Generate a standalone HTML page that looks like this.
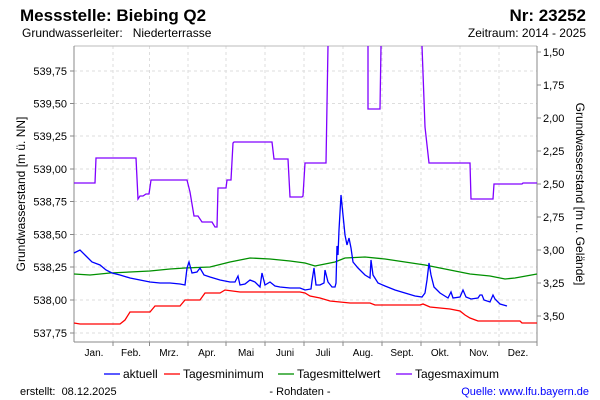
<!DOCTYPE html>
<html><head><meta charset="utf-8"><style>
body{margin:0;background:#fff;}
svg{display:block;font-family:"Liberation Sans",sans-serif;}
</style></head><body>
<svg width="600" height="400" viewBox="0 0 600 400" xmlns="http://www.w3.org/2000/svg">
<rect width="600" height="400" fill="#fff"/>
<text x="20" y="21" font-size="17" font-weight="bold">Messstelle: Biebing Q2</text>
<text x="586" y="21" font-size="17" font-weight="bold" text-anchor="end">Nr: 23252</text>
<text x="22" y="37" font-size="12">Grundwasserleiter:&#160;&#160;&#160;Niederterrasse</text>
<text x="586" y="37" font-size="12" text-anchor="end">Zeitraum: 2014 - 2025</text>
<g stroke="#ddd" stroke-dasharray="3,3" stroke-width="1">
<line x1="74" x2="537" y1="71" y2="71"/><line x1="74" x2="537" y1="103.5" y2="103.5"/><line x1="74" x2="537" y1="136" y2="136"/><line x1="74" x2="537" y1="169" y2="169"/><line x1="74" x2="537" y1="201.5" y2="201.5"/><line x1="74" x2="537" y1="234.5" y2="234.5"/><line x1="74" x2="537" y1="267" y2="267"/><line x1="74" x2="537" y1="300" y2="300"/><line x1="74" x2="537" y1="333" y2="333"/>
<line y1="46" y2="342" x1="113" x2="113"/><line y1="46" y2="342" x1="149.5" x2="149.5"/><line y1="46" y2="342" x1="188" x2="188"/><line y1="46" y2="342" x1="226" x2="226"/><line y1="46" y2="342" x1="265" x2="265"/><line y1="46" y2="342" x1="304" x2="304"/><line y1="46" y2="342" x1="343" x2="343"/><line y1="46" y2="342" x1="382" x2="382"/><line y1="46" y2="342" x1="421" x2="421"/><line y1="46" y2="342" x1="460" x2="460"/><line y1="46" y2="342" x1="499" x2="499"/>
</g>
<line x1="74" x2="537" y1="46" y2="46" stroke="#bbb"/>
<line x1="74" x2="74" y1="46" y2="342" stroke="#888"/>
<line x1="537" x2="537" y1="46" y2="342" stroke="#888"/>
<line x1="74" x2="537" y1="342" y2="342" stroke="#888"/>
<g stroke="#888">
<line x1="70" x2="74" y1="71" y2="71"/><line x1="70" x2="74" y1="103.5" y2="103.5"/><line x1="70" x2="74" y1="136" y2="136"/><line x1="70" x2="74" y1="169" y2="169"/><line x1="70" x2="74" y1="201.5" y2="201.5"/><line x1="70" x2="74" y1="234.5" y2="234.5"/><line x1="70" x2="74" y1="267" y2="267"/><line x1="70" x2="74" y1="300" y2="300"/><line x1="70" x2="74" y1="333" y2="333"/>
<line x1="537" x2="541" y1="52" y2="52"/><line x1="537" x2="541" y1="85" y2="85"/><line x1="537" x2="541" y1="118" y2="118"/><line x1="537" x2="541" y1="151" y2="151"/><line x1="537" x2="541" y1="184" y2="184"/><line x1="537" x2="541" y1="217" y2="217"/><line x1="537" x2="541" y1="250" y2="250"/><line x1="537" x2="541" y1="283" y2="283"/><line x1="537" x2="541" y1="316" y2="316"/>
<line y1="342" y2="346" x1="113" x2="113"/><line y1="342" y2="346" x1="149.5" x2="149.5"/><line y1="342" y2="346" x1="188" x2="188"/><line y1="342" y2="346" x1="226" x2="226"/><line y1="342" y2="346" x1="265" x2="265"/><line y1="342" y2="346" x1="304" x2="304"/><line y1="342" y2="346" x1="343" x2="343"/><line y1="342" y2="346" x1="382" x2="382"/><line y1="342" y2="346" x1="421" x2="421"/><line y1="342" y2="346" x1="460" x2="460"/><line y1="342" y2="346" x1="499" x2="499"/><line y1="342" y2="346" x1="537" x2="537"/>
</g>
<g font-size="11" text-anchor="end">
<text x="67" y="75">539,75</text><text x="67" y="107.5">539,50</text><text x="67" y="140">539,25</text><text x="67" y="173">539,00</text><text x="67" y="205.5">538,75</text><text x="67" y="238.5">538,50</text><text x="67" y="271">538,25</text><text x="67" y="304">538,00</text><text x="67" y="337">537,75</text>
</g>
<g font-size="11">
<text x="543" y="56">1,50</text><text x="543" y="89">1,75</text><text x="543" y="122">2,00</text><text x="543" y="155">2,25</text><text x="543" y="188">2,50</text><text x="543" y="221">2,75</text><text x="543" y="254">3,00</text><text x="543" y="287">3,25</text><text x="543" y="320">3,50</text>
</g>
<g font-size="10" text-anchor="middle">
<text x="94" y="356">Jan.</text><text x="131" y="356">Feb.</text><text x="169" y="356">Mrz.</text><text x="207" y="356">Apr.</text><text x="246" y="356">Mai</text><text x="285" y="356">Juni</text><text x="323" y="356">Juli</text><text x="363" y="356">Aug.</text><text x="402" y="356">Sept.</text><text x="440" y="356">Okt.</text><text x="479" y="356">Nov.</text><text x="518" y="356">Dez.</text>
</g>
<text transform="translate(25,194) rotate(-90)" font-size="12" text-anchor="middle">Grundwasserstand [m ü. NN]</text>
<text transform="translate(576,194) rotate(90)" font-size="12" text-anchor="middle">Grundwasserstand [m u. Gelände]</text>
<g fill="none" stroke-width="1.3">
<polyline stroke="#8000ff" points="74,183 95,183 96,158 136,158 138,199 140,196 143,196 146,194 149,194 151,180 187,180 190,192 194,216 198,216 202,222 212,222 215,227 217,227 218,188 226,188 227,180 231,180 233,143 234,142 272,142 274,159 288,159 290,197 302,197 303,196 305,163 326,163 328,46"/>
<polyline stroke="#8000ff" points="368,46 368,109 380,109 381,46"/>
<polyline stroke="#8000ff" points="422,46 425,127 429,163 470,163 471,199 493,199 494,184 522,184 523,183 537,183"/>
<polyline stroke="#009000" points="74,274 90,275 110,273 130,272 150,271 170,269 185,268 210,267 230,262 250,258 270,259 290,261 305,263 315,266 325,264 335,262 345,258 365,257 385,259 405,262 425,265 430,266 440,268 455,271 470,274 490,276 505,279 515,278 537,274"/>
<polyline stroke="#ff0000" points="74,323 80,324 120,324 125,320 130,312 150,312 155,306 180,306 185,300 200,300 205,293 220,293 225,290 240,292 300,292 305,293 310,296 320,298 330,301 340,302 350,303 370,303 375,305 420,305 423,304 430,307 450,309 460,311 465,315 470,318 478,321 520,321 522,323 537,323"/>
<polyline stroke="#0000ff" points="74,253 80,250 86,256 92,262 100,265 106,270 112,273 120,275 130,278 140,280 150,282 160,283 170,283 180,284 185,285 187,268 189,262 192,273 197,272 200,268 204,275 210,277 220,280 230,282 235,282 238,276 240,285 245,284 250,280 255,282 260,287 262,273 265,285 270,282 275,286 280,287 290,288 300,288 305,290 311,289 312,281 314,268 316,285 320,285 324,283 325,270 328,282 332,287 335,287 336,283 337,246 338,255 339,230 341,195 342,205 343,215 345,235 347,245 349,238 351,248 353,262 358,268 365,275 370,278 371,260 373,275 378,283 385,286 395,290 405,293 415,296 422,297 425,293 427,280 429,263 431,275 434,287 440,293 448,298 451,292 453,298 460,297 463,290 466,297 471,299 478,298 480,295 482,295 484,300 490,302 493,295 495,299 500,304 507,306"/>
</g>
<g font-size="12">
<line x1="104" x2="120" y1="374" y2="374" stroke="#0000ff" stroke-width="1.3"/><text x="123" y="378">aktuell</text>
<line x1="164" x2="180" y1="374" y2="374" stroke="#ff0000" stroke-width="1.3"/><text x="183" y="378">Tagesminimum</text>
<line x1="278" x2="294" y1="374" y2="374" stroke="#009000" stroke-width="1.3"/><text x="297" y="378">Tagesmittelwert</text>
<line x1="396" x2="412" y1="374" y2="374" stroke="#8000ff" stroke-width="1.3"/><text x="415" y="378">Tagesmaximum</text>
</g>
<g font-size="11">
<text x="20" y="395">erstellt:&#160;&#160;08.12.2025</text>
<text x="300" y="395" text-anchor="middle">- Rohdaten -</text>
<text x="589" y="395" text-anchor="end" fill="#0000ff">Quelle: www.lfu.bayern.de</text>
</g>
</svg>
</body></html>
